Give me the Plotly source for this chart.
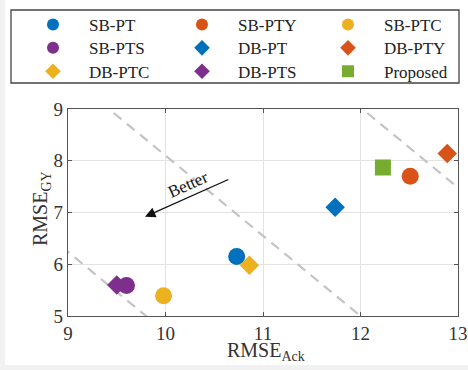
import plotly.graph_objects as go

# Method results: (RMSE_Ack, RMSE_GY)
methods = ["SB-PT", "SB-PTY", "SB-PTC", "SB-PTS", "DB-PT", "DB-PTY", "DB-PTC", "DB-PTS", "Proposed"]
rmse_ack = [10.73, 12.51, 9.98, 9.60, 11.74, 12.89, 10.86, 9.50, 12.23]
rmse_gy = [6.15, 7.70, 5.39, 5.59, 7.10, 8.14, 5.98, 5.60, 7.87]
colors = ["#0072BD", "#D95319", "#EDB120", "#7E2F8E", "#0072BD", "#D95319", "#EDB120", "#7E2F8E", "#77AC30"]
symbols = ["circle", "circle", "circle", "circle", "diamond", "diamond", "diamond", "diamond", "square"]
sizes = [17, 17, 17, 17, 15, 15, 15, 15, 16]

# Iso-performance guide lines (x pairs, y pairs)
guide_x = [[8.8, 10.0], [9.2, 12.2], [11.8, 13.2]]
guide_y = [[6.55, 4.69], [9.34, 4.69], [9.34, 7.17]]

x_ticks = [9, 10, 11, 12, 13]
y_ticks = [5, 6, 7, 8, 9]

FONT = "Liberation Serif, Times New Roman, serif"
W, H = 468, 370
ML, MR, MT, MB = 68, 10, 109, 54
PW, PH = W - ML - MR, H - MT - MB

# Legend grid: 3 columns x 3 rows, filled row by row (pixel positions)
LEG_COL_X = [17, 166, 312]
LEG_ROW_Y = [25, 48.3, 71.7]


def px_x(px):
    return (px - ML) / PW


def px_y(py):
    return (H - MB - py) / PH


fig = go.Figure()

for gx, gy in zip(guide_x, guide_y):
    fig.add_trace(go.Scatter(
        x=gx, y=gy, mode="lines", showlegend=False, hoverinfo="skip",
        line=dict(color="#c4c4c4", width=2.2, dash="10px,7px"),
    ))

legend_layouts = {}
for i, (name, x, y, c, s, sz) in enumerate(zip(methods, rmse_ack, rmse_gy, colors, symbols, sizes)):
    key = "legend" if i == 0 else f"legend{i + 1}"
    fig.add_trace(go.Scatter(
        x=[x], y=[y], mode="markers", name=name, legend=key,
        marker=dict(color=c, symbol=s, size=sz, line=dict(width=0)),
    ))
    legend_layouts[key] = dict(
        orientation="v", xref="container", yref="container",
        xanchor="left", yanchor="middle",
        x=LEG_COL_X[i % 3] / W, y=1 - LEG_ROW_Y[i // 3] / H,
        itemwidth=62, itemsizing="constant",
        borderwidth=0, bgcolor="rgba(0,0,0,0)",
        font=dict(family=FONT, size=17, color="#222222"),
    )

# "Better" arrow
fig.add_annotation(
    x=9.79, y=6.92, ax=10.66, ay=7.65, xref="x", yref="y", axref="x", ayref="y",
    text="", showarrow=True, arrowhead=2, arrowsize=1.6, arrowwidth=1.3, arrowcolor="#111111",
)
fig.add_annotation(
    x=10.23, y=7.55, xref="x", yref="y", text="Better", showarrow=False,
    textangle=-24, font=dict(family=FONT, size=17, color="#111111"),
)

# Axis titles
fig.add_annotation(
    x=px_x(41), y=px_y(209), xref="paper", yref="paper",
    text="RMSE<sub>GY</sub>", showarrow=False, textangle=-90,
    xanchor="center", yanchor="middle",
    font=dict(family=FONT, size=20, color="#333333"),
)
fig.add_annotation(
    x=px_x(266), y=px_y(337), xref="paper", yref="paper",
    text="RMSE<sub>Ack</sub>", showarrow=False,
    xanchor="center", yanchor="top",
    font=dict(family=FONT, size=20, color="#333333"),
)

# White card behind the figure content
fig.add_shape(
    type="rect", xref="paper", yref="paper", layer="below",
    x0=px_x(5), x1=px_x(475), y0=px_y(365), y1=px_y(-5),
    fillcolor="white", line=dict(width=0),
)
# Legend frame
fig.add_shape(
    type="rect", xref="paper", yref="paper", layer="above",
    x0=px_x(11), x1=px_x(459), y0=px_y(83), y1=px_y(10),
    fillcolor="rgba(0,0,0,0)", line=dict(color="#444444", width=1.3),
)

axis_common = dict(
    showgrid=True, gridcolor="#e3e3e3", gridwidth=1,
    showline=True, linecolor="#555555", linewidth=1.3, mirror="ticks",
    ticks="inside", ticklen=4, tickcolor="#555555", tickwidth=1,
    zeroline=False, tickfont=dict(family=FONT, size=19, color="#333333"),
    automargin=True,
)

fig.update_xaxes(range=[9, 13], tickvals=x_ticks, **axis_common)
fig.update_yaxes(range=[5, 9], tickvals=y_ticks, **axis_common)

fig.update_layout(
    width=W, height=H,
    margin=dict(l=ML, r=MR, t=MT, b=MB, autoexpand=False),
    paper_bgcolor="#f1f1f1", plot_bgcolor="white",
    showlegend=True,
    **legend_layouts,
)

fig.write_html("out.html")
